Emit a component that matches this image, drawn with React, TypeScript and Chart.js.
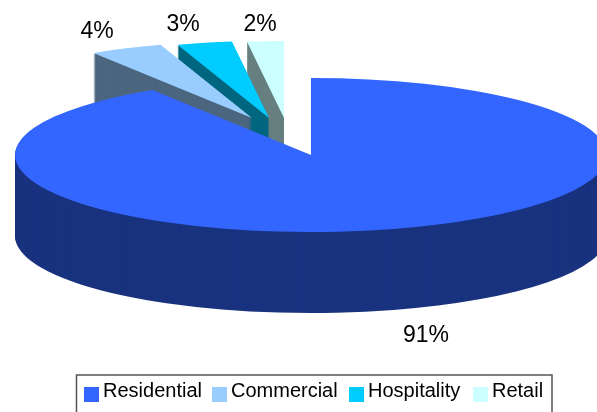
import React, { useEffect, useRef } from "react";
import { Chart, registerables } from "chart.js";

Chart.register(...registerables);

const sectors = ["Residential", "Commercial", "Hospitality", "Retail"];
const shares = [91, 4, 3, 2];
const faceColors = ["#3366FF", "#99CCFF", "#00CCFF", "#CCFFFF"];
const wallColors = ["#19337F", "#4C667F", "#00667F", "#667F7F"];

// Pulled-out distance of each slice, in screen pixels after tilting.
const pullX = [0, -59, -42, -27];
const pullY = [0, -37, -37, -37];

// Centre and baseline of each percentage label.
const labelX = [426, 97, 183, 260];
const labelY = [342, 38, 31, 31];

// Left edge of each legend swatch.
const legendX = [84, 212, 349, 473];

const TILT = 77 / 296;
const DEPTH = 81;
const FONT = "Liberation Sans, Arial, sans-serif";

const tiltedPie = {
  id: "tiltedPie",
  beforeDatasetsDraw(chart: any) {
    const { ctx } = chart;
    const arcs = chart.getDatasetMeta(0).data;
    const paintSlice = (i: number, drop: number, color: string) => {
      const arc = arcs[i];
      const saved = arc.options;
      arc.options = { ...saved, backgroundColor: color };
      ctx.save();
      ctx.translate(arc.x + pullX[i], arc.y + pullY[i] + drop);
      ctx.scale(1, TILT);
      ctx.translate(-arc.x, -arc.y);
      arc.draw(ctx);
      ctx.restore();
      arc.options = saved;
    };
    // Back slices first, so the nearer ones cover them.
    for (let i = arcs.length - 1; i >= 0; i--) {
      for (let drop = DEPTH; drop > 0; drop--) paintSlice(i, drop, wallColors[i]);
      paintSlice(i, 0, faceColors[i]);
    }
    return false;
  },
  afterDraw(chart: any) {
    const { ctx } = chart;
    ctx.save();
    ctx.fillStyle = "#000";
    ctx.textAlign = "center";
    ctx.textBaseline = "alphabetic";
    ctx.font = `23px ${FONT}`;
    shares.forEach((v, i) => ctx.fillText(`${v}%`, labelX[i], labelY[i]));

    // Boxed legend along the bottom edge.
    ctx.strokeStyle = "#555";
    ctx.lineWidth = 1.5;
    ctx.strokeRect(76.5, 375, 475.5, 50);
    ctx.font = `20px ${FONT}`;
    ctx.textAlign = "left";
    chart.data.labels.forEach((name: string, i: number) => {
      ctx.fillStyle = faceColors[i];
      ctx.fillRect(legendX[i], 387, 15, 15);
      ctx.fillStyle = "#000";
      ctx.fillText(name, legendX[i] + 19, 397);
    });
    ctx.restore();
  },
};

export default function App() {
  const ref = useRef<HTMLCanvasElement>(null);
  useEffect(() => {
    document.body.style.margin = "0";
    const chart = new Chart(ref.current!, {
      type: "pie",
      data: {
        labels: sectors,
        datasets: [{ data: shares, backgroundColor: faceColors, borderWidth: 0 }],
      },
      options: {
        responsive: false,
        animation: false,
        radius: 296,
        layout: { padding: { left: 25, right: 0, top: 0, bottom: 102 } },
        plugins: { legend: { display: false }, tooltip: { enabled: false } },
      },
      plugins: [tiltedPie],
    } as any);
    return () => chart.destroy();
  }, []);
  return (
    <canvas
      ref={ref}
      width={597}
      height={412}
      style={{ display: "block", width: 597, height: 412 }}
    />
  );
}
